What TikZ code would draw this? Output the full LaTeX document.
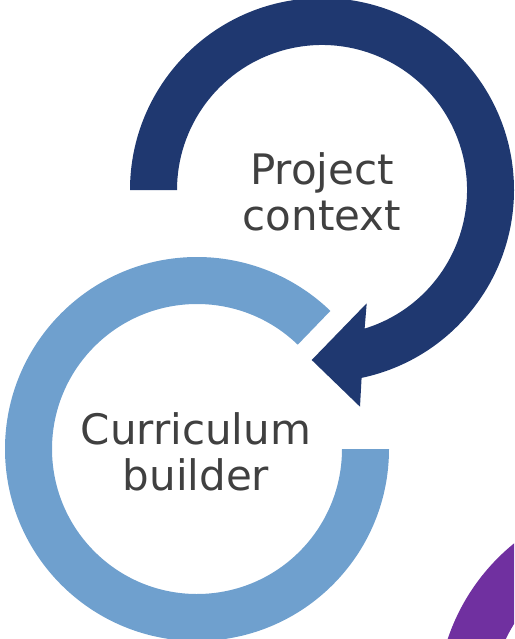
\documentclass[tikz,border=0pt]{standalone}
\usepackage{fontspec}
\setmainfont{DejaVu Sans}
\usetikzlibrary{calc}
\definecolor{ringdark}{RGB}{31,56,112}
\definecolor{ringlight}{RGB}{111,160,206}
\definecolor{ringpurple}{RGB}{112,48,160}
\definecolor{labelgray}{RGB}{64,64,64}
\tikzset{
  ringlabel/.style={align=center, text=labelgray, inner sep=0pt,
    font=\fontsize{42}{46}\selectfont},
}
\begin{document}
\begin{tikzpicture}[x=1pt,y=1pt]
\useasboundingbox (0,0) rectangle (514,-639);
\clip (0,0) rectangle (514,-639);
\coordinate (c1) at (322,-190);
\coordinate (c2) at (197,-449);
\coordinate (c3) at (645,-705);
% purple ring (partly visible)
\fill[ringpurple, even odd rule] (c3) circle[radius=208] (c3) circle[radius=154];
% light blue ring
\fill[ringlight] ($(c2)+(0:192)$) arc[start angle=0, end angle=-314, radius=192]
  -- ($(c2)+(46:145)$) arc[start angle=46, end angle=360, radius=145] -- cycle;
% dark blue arrow ring
\coordinate (b1) at (360,-406.7);
\coordinate (tip) at (311.7,-360);
\coordinate (b2) at (366.7,-303.3);
\fill[ringdark] ($(c1)+(180:192)$) arc[start angle=180, end angle=-78.1, radius=192]
  -- (b1) -- (tip) -- (b2)
  -- ($(c1)+(-72.9:145)$) arc[start angle=-72.9, end angle=180, radius=145] -- cycle;
\node[ringlabel] (project) at (322,-192) {Project\\context};
\node[ringlabel] (curriculum) at (196,-452) {Curriculum\\builder};
\end{tikzpicture}
\end{document}
